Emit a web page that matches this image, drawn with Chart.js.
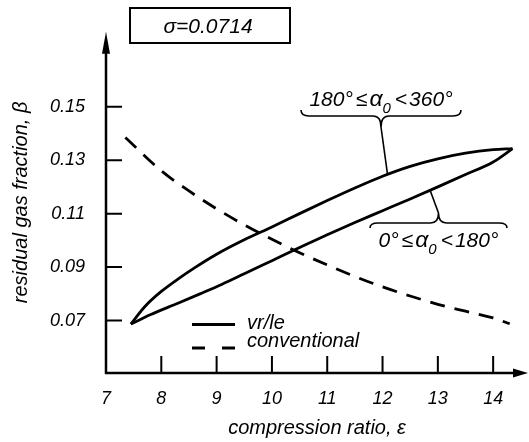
<!DOCTYPE html>
<html>
<head>
<meta charset="utf-8">
<script src="https://cdn.jsdelivr.net/npm/chart.js@4.4.1/dist/chart.umd.min.js"></script>
<style>
  html, body { margin: 0; padding: 0; background: #fff; }
  #wrap { position: relative; width: 529px; height: 442px; }
</style>
</head>
<body>
<div id="wrap"><canvas id="myChart"></canvas></div>
<script>
var xTicks = [7, 8, 9, 10, 11, 12, 13, 14];
var yTicks = [0.07, 0.09, 0.11, 0.13, 0.15];

// vr/le engine, 180deg <= alpha0 < 360deg (upper branch of the loop)
var ratioUpper = [7.45, 7.7, 8.0, 8.3, 8.6, 9.0, 9.5, 10, 10.5, 11, 11.5, 12, 12.5, 13, 13.5, 14, 14.35];
var betaUpper = [0.0687, 0.0752, 0.0809, 0.0855, 0.0897, 0.0948, 0.1002, 0.1050, 0.1100, 0.1149, 0.1196, 0.1240, 0.1277, 0.1305, 0.1326, 0.1339, 0.1343];

// vr/le engine, 0deg <= alpha0 < 180deg (lower branch)
var ratioLower = [7.45, 7.8, 8.3, 8.7, 9.1, 9.5, 10, 10.5, 11, 11.5, 12, 12.5, 13, 13.5, 14, 14.35];
var betaLower = [0.0687, 0.0722, 0.0765, 0.0800, 0.0836, 0.0875, 0.0924, 0.0973, 0.1021, 0.1067, 0.1111, 0.1155, 0.1200, 0.1246, 0.1293, 0.1343];

// conventional engine
var ratioConv = [7.35, 8, 8.5, 9, 9.5, 10, 10.5, 11, 11.5, 12, 12.5, 13, 13.5, 14, 14.3];
var betaConv = [0.1385, 0.1260, 0.1185, 0.1118, 0.1058, 0.1004, 0.0954, 0.0908, 0.0865, 0.0826, 0.0792, 0.0761, 0.0735, 0.0710, 0.0688];

var legendLabels = ['vr/le', 'conventional'];
var sigmaText = 'σ=0.0714';

var fontFamily = "'Liberation Sans', Arial, sans-serif";
function italic(size) { return 'italic ' + size + 'px ' + fontFamily; }

function toPoints(xs, ys) {
    return xs.map(function (x, i) { return { x: x, y: ys[i] }; });
}

// straight-line lookup along a curve, for hooking the leader lines on
function curveAt(xs, ys, x) {
    for (var i = 1; i < xs.length; i++) {
        if (x <= xs[i]) {
            var t = (x - xs[i - 1]) / (xs[i] - xs[i - 1]);
            return ys[i - 1] + t * (ys[i] - ys[i - 1]);
        }
    }
    return ys[ys.length - 1];
}

// text made of pieces, so the subscript can sit lower and smaller
function drawRuns(ctx, runs, cx, baseline) {
    var total = 0;
    runs.forEach(function (r) {
        ctx.font = italic(r.size);
        r.w = ctx.measureText(r.t).width + (r.gap || 0);
        total += r.w;
    });
    var x = cx - total / 2;
    ctx.textAlign = 'left';
    ctx.textBaseline = 'alphabetic';
    runs.forEach(function (r) {
        ctx.font = italic(r.size);
        ctx.fillText(r.t, x, baseline + (r.dy || 0));
        x += r.w;
    });
}

function alphaLabel(from, to) {
    return [
        { t: from, size: 21, gap: 3 },
        { t: '≤', size: 21, gap: 2 },
        { t: 'α', size: 23, gap: 0 },
        { t: '0', size: 15, dy: 7, gap: 4 },
        { t: '<', size: 21, gap: 2 },
        { t: to, size: 21 }
    ];
}

// curly brace, dir 1 = tip pointing down, -1 = tip pointing up
function brace(ctx, x1, x2, y, endH, tipH, dir) {
    var xm = (x1 + x2) / 2, r = 8;
    ctx.beginPath();
    ctx.moveTo(x1, y - dir * endH);
    ctx.quadraticCurveTo(x1, y, x1 + r, y);
    ctx.lineTo(xm - r, y);
    ctx.quadraticCurveTo(xm, y, xm, y + dir * tipH);
    ctx.quadraticCurveTo(xm, y, xm + r, y);
    ctx.lineTo(x2 - r, y);
    ctx.quadraticCurveTo(x2, y, x2, y - dir * endH);
    ctx.stroke();
    return xm;
}

var decorations = {
    id: 'decorations',
    afterDraw: function (chart) {
        var ctx = chart.ctx, a = chart.chartArea;
        var sx = chart.scales.x, sy = chart.scales.y;
        var x0 = a.left, y0 = a.bottom;
        ctx.save();
        ctx.strokeStyle = '#000';
        ctx.fillStyle = '#000';
        ctx.lineCap = 'butt';

        // axes with arrow heads
        ctx.lineWidth = 2.5;
        ctx.beginPath();
        ctx.moveTo(x0, y0 + 1);
        ctx.lineTo(x0, a.top + 12);
        ctx.moveTo(x0 - 1, y0);
        ctx.lineTo(a.right - 10, y0);
        ctx.stroke();
        ctx.beginPath();
        ctx.moveTo(x0, a.top);
        ctx.lineTo(x0 - 4, a.top + 22);
        ctx.lineTo(x0 + 4, a.top + 22);
        ctx.closePath();
        ctx.fill();
        ctx.beginPath();
        ctx.moveTo(a.right, y0);
        ctx.lineTo(a.right - 15, y0 - 4.5);
        ctx.lineTo(a.right - 15, y0 + 4.5);
        ctx.closePath();
        ctx.fill();

        // tick marks point into the plot
        ctx.lineWidth = 2;
        ctx.beginPath();
        yTicks.forEach(function (v) {
            var py = sy.getPixelForValue(v);
            ctx.moveTo(x0, py);
            ctx.lineTo(x0 + 16, py);
        });
        xTicks.forEach(function (v) {
            if (v === sx.min) return;
            var px = sx.getPixelForValue(v);
            ctx.moveTo(px, y0);
            ctx.lineTo(px, y0 - 17);
        });
        ctx.stroke();

        // sigma box
        ctx.lineWidth = 2;
        ctx.strokeRect(130, 8, 160, 35);
        ctx.font = italic(21);
        ctx.textAlign = 'center';
        ctx.textBaseline = 'alphabetic';
        ctx.fillText(sigmaText, 208, 33);

        // legend
        ctx.lineWidth = 2.8;
        ctx.beginPath();
        ctx.moveTo(192, 324.5);
        ctx.lineTo(235, 324.5);
        ctx.stroke();
        ctx.setLineDash([13, 17]);
        ctx.beginPath();
        ctx.moveTo(192, 348);
        ctx.lineTo(235, 348);
        ctx.stroke();
        ctx.setLineDash([]);
        ctx.font = italic(20);
        ctx.textAlign = 'left';
        ctx.fillText(legendLabels[0], 247, 329);
        ctx.fillText(legendLabels[1], 247, 347);

        // branch labels with braces and leader lines
        ctx.lineWidth = 1.6;
        var tipU = brace(ctx, 301, 461, 116, 6, 11, 1);
        var hookUx = 12.09;
        ctx.beginPath();
        ctx.moveTo(tipU, 127);
        ctx.lineTo(sx.getPixelForValue(hookUx), sy.getPixelForValue(curveAt(ratioUpper, betaUpper, hookUx)));
        ctx.stroke();

        var tipL = brace(ctx, 370, 507, 223, 5, 10, -1);
        var hookLx = 12.86;
        ctx.beginPath();
        ctx.moveTo(tipL, 213);
        ctx.lineTo(sx.getPixelForValue(hookLx), sy.getPixelForValue(curveAt(ratioLower, betaLower, hookLx)));
        ctx.stroke();

        drawRuns(ctx, alphaLabel('180°', '360°'), 381, 105.5);
        drawRuns(ctx, alphaLabel('0°', '180°'), 438.5, 246.5);

        ctx.restore();
    }
};

var lineStyle = {
    borderColor: '#000',
    borderWidth: 2.8,
    pointRadius: 0,
    fill: false,
    cubicInterpolationMode: 'monotone'
};

var ctx = document.getElementById('myChart').getContext('2d');
var myChart = new Chart(ctx, {
    type: 'line',
    data: {
        datasets: [
            Object.assign({ label: legendLabels[0], data: toPoints(ratioUpper, betaUpper) }, lineStyle),
            Object.assign({ label: legendLabels[0], data: toPoints(ratioLower, betaLower) }, lineStyle),
            Object.assign({ label: legendLabels[1], data: toPoints(ratioConv, betaConv), borderDash: [15, 10] }, lineStyle)
        ]
    },
    options: {
        responsive: true,
        maintainAspectRatio: false,
        animation: false,
        layout: { padding: { left: 0, right: 1, top: 9, bottom: 0 } },
        plugins: {
            legend: { display: false },
            tooltip: { enabled: false }
        },
        scales: {
            x: {
                type: 'linear',
                min: 7,
                max: 14.63,
                grid: { display: false, drawTicks: false },
                border: { display: false },
                afterBuildTicks: function (scale) {
                    scale.ticks = xTicks.map(function (v) { return { value: v }; });
                },
                afterFit: function (scale) { scale.height = 69; },
                ticks: {
                    color: '#000',
                    padding: 15,
                    maxRotation: 0,
                    font: { family: fontFamily, size: 18, style: 'italic' },
                    callback: function (v) { return String(v); }
                },
                title: {
                    display: true,
                    text: 'compression ratio, ε',
                    color: '#000',
                    padding: { top: 0, bottom: 2 },
                    font: { family: fontFamily, size: 20, style: 'italic' }
                }
            },
            y: {
                min: 0.0504,
                max: 0.178,
                grid: { display: false, drawTicks: false },
                border: { display: false },
                afterBuildTicks: function (scale) {
                    scale.ticks = yTicks.map(function (v) { return { value: v }; });
                },
                afterFit: function (scale) { scale.width = 106; },
                ticks: {
                    color: '#000',
                    padding: 21,
                    font: { family: fontFamily, size: 18, style: 'italic' },
                    callback: function (v) { return v.toFixed(2); }
                },
                title: {
                    display: true,
                    text: 'residual gas fraction, β',
                    color: '#000',
                    padding: { top: 9, bottom: 0 },
                    font: { family: fontFamily, size: 20, style: 'italic' }
                }
            }
        }
    },
    plugins: [decorations]
});
</script>
</body>
</html>
